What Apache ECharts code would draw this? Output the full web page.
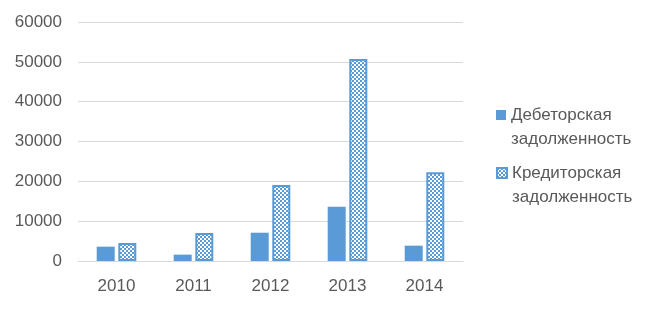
<!DOCTYPE html>
<html>
<head>
<meta charset="utf-8">
<script src="https://cdn.jsdelivr.net/npm/echarts@6/dist/echarts.min.js"></script>
<style>
html,body{margin:0;padding:0;background:#fff;}
#c{width:655px;height:309px;}
</style>
</head>
<body>
<div id="c"></div>
<script>
const categories = ['2010', '2011', '2012', '2013', '2014'];
const debtorValues = [3600, 1600, 7100, 13600, 3850];
const creditorValues = [4500, 7000, 19100, 50700, 22300];
const seriesNames = ['Дебеторская\nзадолженность', 'Кредиторская\nзадолженность'];
const yTicks = [0, 10000, 20000, 30000, 40000, 50000, 60000];

const BLUE = '#5B9BD5';
const tile = document.createElement('canvas');
tile.width = 4; tile.height = 4;
const tc = tile.getContext('2d');
tc.fillStyle = '#ffffff';
tc.fillRect(0, 0, 4, 4);
tc.fillStyle = BLUE;
tc.fillRect(0, 0, 2, 2);
tc.fillRect(2, 2, 2, 2);

const FONT = 'Liberation Sans';
const FS = 17;
const legendBase = {
  orient: 'vertical',
  left: 496,
  padding: 0,
  itemWidth: 10,
  itemHeight: 10,
  icon: 'rect',
  formatter: name => ' \n' + name,
  textStyle: {fontFamily: FONT, fontSize: FS, color: '#595959', lineHeight: 24}
};
const chart = echarts.init(document.getElementById('c'), null, {renderer: 'canvas'});
chart.setOption({
  animation: false,
  backgroundColor: '#ffffff',
  grid: {left: 78, right: 192, top: 22, bottom: 48},
  legend: [
    Object.assign({}, legendBase, {top: 79, data: [seriesNames[0]]}),
    Object.assign({}, legendBase, {top: 137, data: [seriesNames[1]]})
  ],
  xAxis: {
    type: 'category',
    data: categories,
    axisTick: {show: false},
    axisLine: {lineStyle: {color: '#d9d9d9', width: 1}},
    axisLabel: {fontFamily: FONT, fontSize: FS, color: '#595959', margin: 17}
  },
  yAxis: {
    type: 'value',
    min: yTicks[0],
    max: yTicks[yTicks.length - 1],
    interval: yTicks[1] - yTicks[0],
    axisLine: {show: false},
    axisTick: {show: false},
    splitLine: {lineStyle: {color: '#d9d9d9', width: 1}},
    axisLabel: {fontFamily: FONT, fontSize: FS, color: '#595959', margin: 16,
      formatter: v => String(v)}
  },
  series: [
    {
      name: seriesNames[0],
      type: 'bar',
      data: debtorValues,
      barWidth: 18,
      barGap: '20%',
      itemStyle: {color: BLUE}
    },
    {
      name: seriesNames[1],
      type: 'bar',
      data: creditorValues,
      barWidth: 18,
      barGap: '20%',
      itemStyle: {color: {image: tile, repeat: 'repeat'}, borderColor: BLUE, borderWidth: 2}
    }
  ]
});
</script>
</body>
</html>
